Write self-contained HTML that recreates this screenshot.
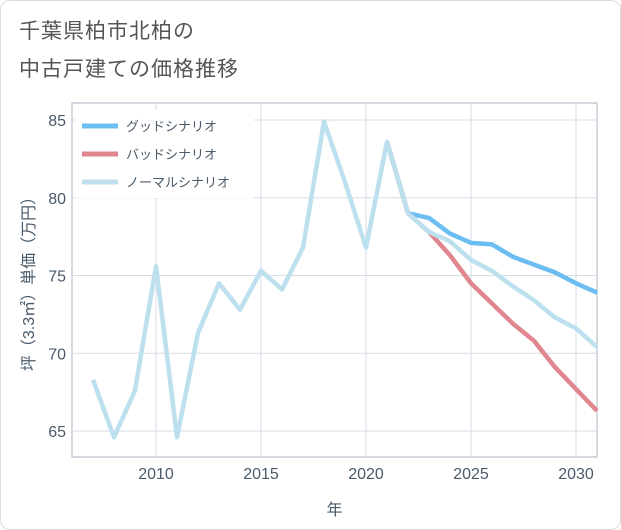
<!DOCTYPE html>
<html><head><meta charset="utf-8"><style>
body{margin:0;background:#fff;font-family:"Liberation Sans","Noto Sans CJK JP",sans-serif;}
#wrap{position:relative;width:619px;height:528px;border:1px solid #ddd;border-radius:10px;overflow:hidden;background:#fff}
.title{position:absolute;left:18px;font-size:21px;color:#555;letter-spacing:1px}
</style></head><body>
<div id="wrap">
<div class="title" style="top:14px">千葉県柏市北柏の</div>
<div class="title" style="top:52px">中古戸建ての価格推移</div>
<svg id="chart" width="621" height="530" style="position:absolute;left:-1px;top:-1px"></svg>
</div>
<script>
const years=[2007,2008,2009,2010,2011,2012,2013,2014,2015,2016,2017,2018,2019,2020,2021,2022,2023,2024,2025,2026,2027,2028,2029,2030,2031];
const normal=[68.3,64.6,67.6,75.6,64.6,71.3,74.5,72.8,75.3,74.1,76.8,84.9,81.0,76.8,83.6,79.0,77.8,77.2,76.0,75.3,74.3,73.4,72.3,71.6,70.4];
const predYears=[2021,2022,2023,2024,2025,2026,2027,2028,2029,2030,2031];
const good=[83.6,79.0,78.7,77.7,77.1,77.0,76.2,75.7,75.2,74.5,73.9];
const bad=[83.6,79.0,77.8,76.3,74.5,73.2,71.9,70.8,69.1,67.7,66.3];
const xTicks=[2010,2015,2020,2025,2030];
const yTicks=[65,70,75,80,85];
const L=72,R=597,T=103,B=457;
const x=v=>156+(v-2010)*21;
const y=v=>120+(85-v)*15.55;
const svg=document.getElementById('chart');
const NS='http://www.w3.org/2000/svg';
function mk(t,a){const e=document.createElementNS(NS,t);for(const k in a)e.setAttribute(k,a[k]);svg.appendChild(e);return e;}
const bg=mk('rect',{x:L,y:T,width:R-L,height:B-T,fill:'#fff',stroke:'#aab4c0'});


xTicks.forEach(v=>{
 const g=mk('line',{x1:x(v),x2:x(v),y1:T,y2:B,stroke:'#d5dde5'});
 
 
 const t=mk('text',{x:x(v),y:B+22,'text-anchor':'middle','font-size':16,fill:'#4a5a6a'});
 t.textContent=v;
 
 
});
yTicks.forEach(v=>{
 const g=mk('line',{x1:L,x2:R,y1:y(v),y2:y(v),stroke:'#d5dde5'});
 
 
 const t=mk('text',{x:L-6,y:y(v)+6,'text-anchor':'end','font-size':16,fill:'#4a5a6a'});
 t.textContent=v;
 
 
});
const xt=mk('text',{x:(L+R)/2,y:515,'text-anchor':'middle','font-size':16,fill:'#4a5a6a'});
xt.textContent='年';


const yt=mk('text',{x:0,y:0,'text-anchor':'middle','font-size':16,fill:'#4a5a6a',transform:`translate(34,${(T+B)/2}) rotate(-90)`});
yt.textContent='坪（3.3㎡）単価（万円）';


function line(xs,vs,c,name){
 const p=mk('polyline',{points:xs.map((v,i)=>x(v)+','+y(vs[i])).join(' '),fill:'none',stroke:c,'stroke-width':4.5,'stroke-linejoin':'round'});
 
 
}
line(predYears,good,'#6bbdf2','good-scenario-line');
line(predYears,bad,'#e0868e','bad-scenario-line');
line(years,normal,'#bde0ee','normal-scenario-line');
const leg=[['グッドシナリオ','#6bbdf2'],['バッドシナリオ','#e0868e'],['ノーマルシナリオ','#bde0ee']];
const lb=mk('rect',{x:76,y:110,width:178,height:88,fill:'#fff'});


leg.forEach((d,i)=>{
 const ly=126+i*28;
 const l=mk('line',{x1:82,x2:118,y1:ly,y2:ly,stroke:d[1],'stroke-width':5});
 
 
 const t=mk('text',{x:126,y:ly+5,'font-size':13,fill:'#4a5a6a'});
 t.textContent=d[0];
 
 
});
</script>
</body></html>
